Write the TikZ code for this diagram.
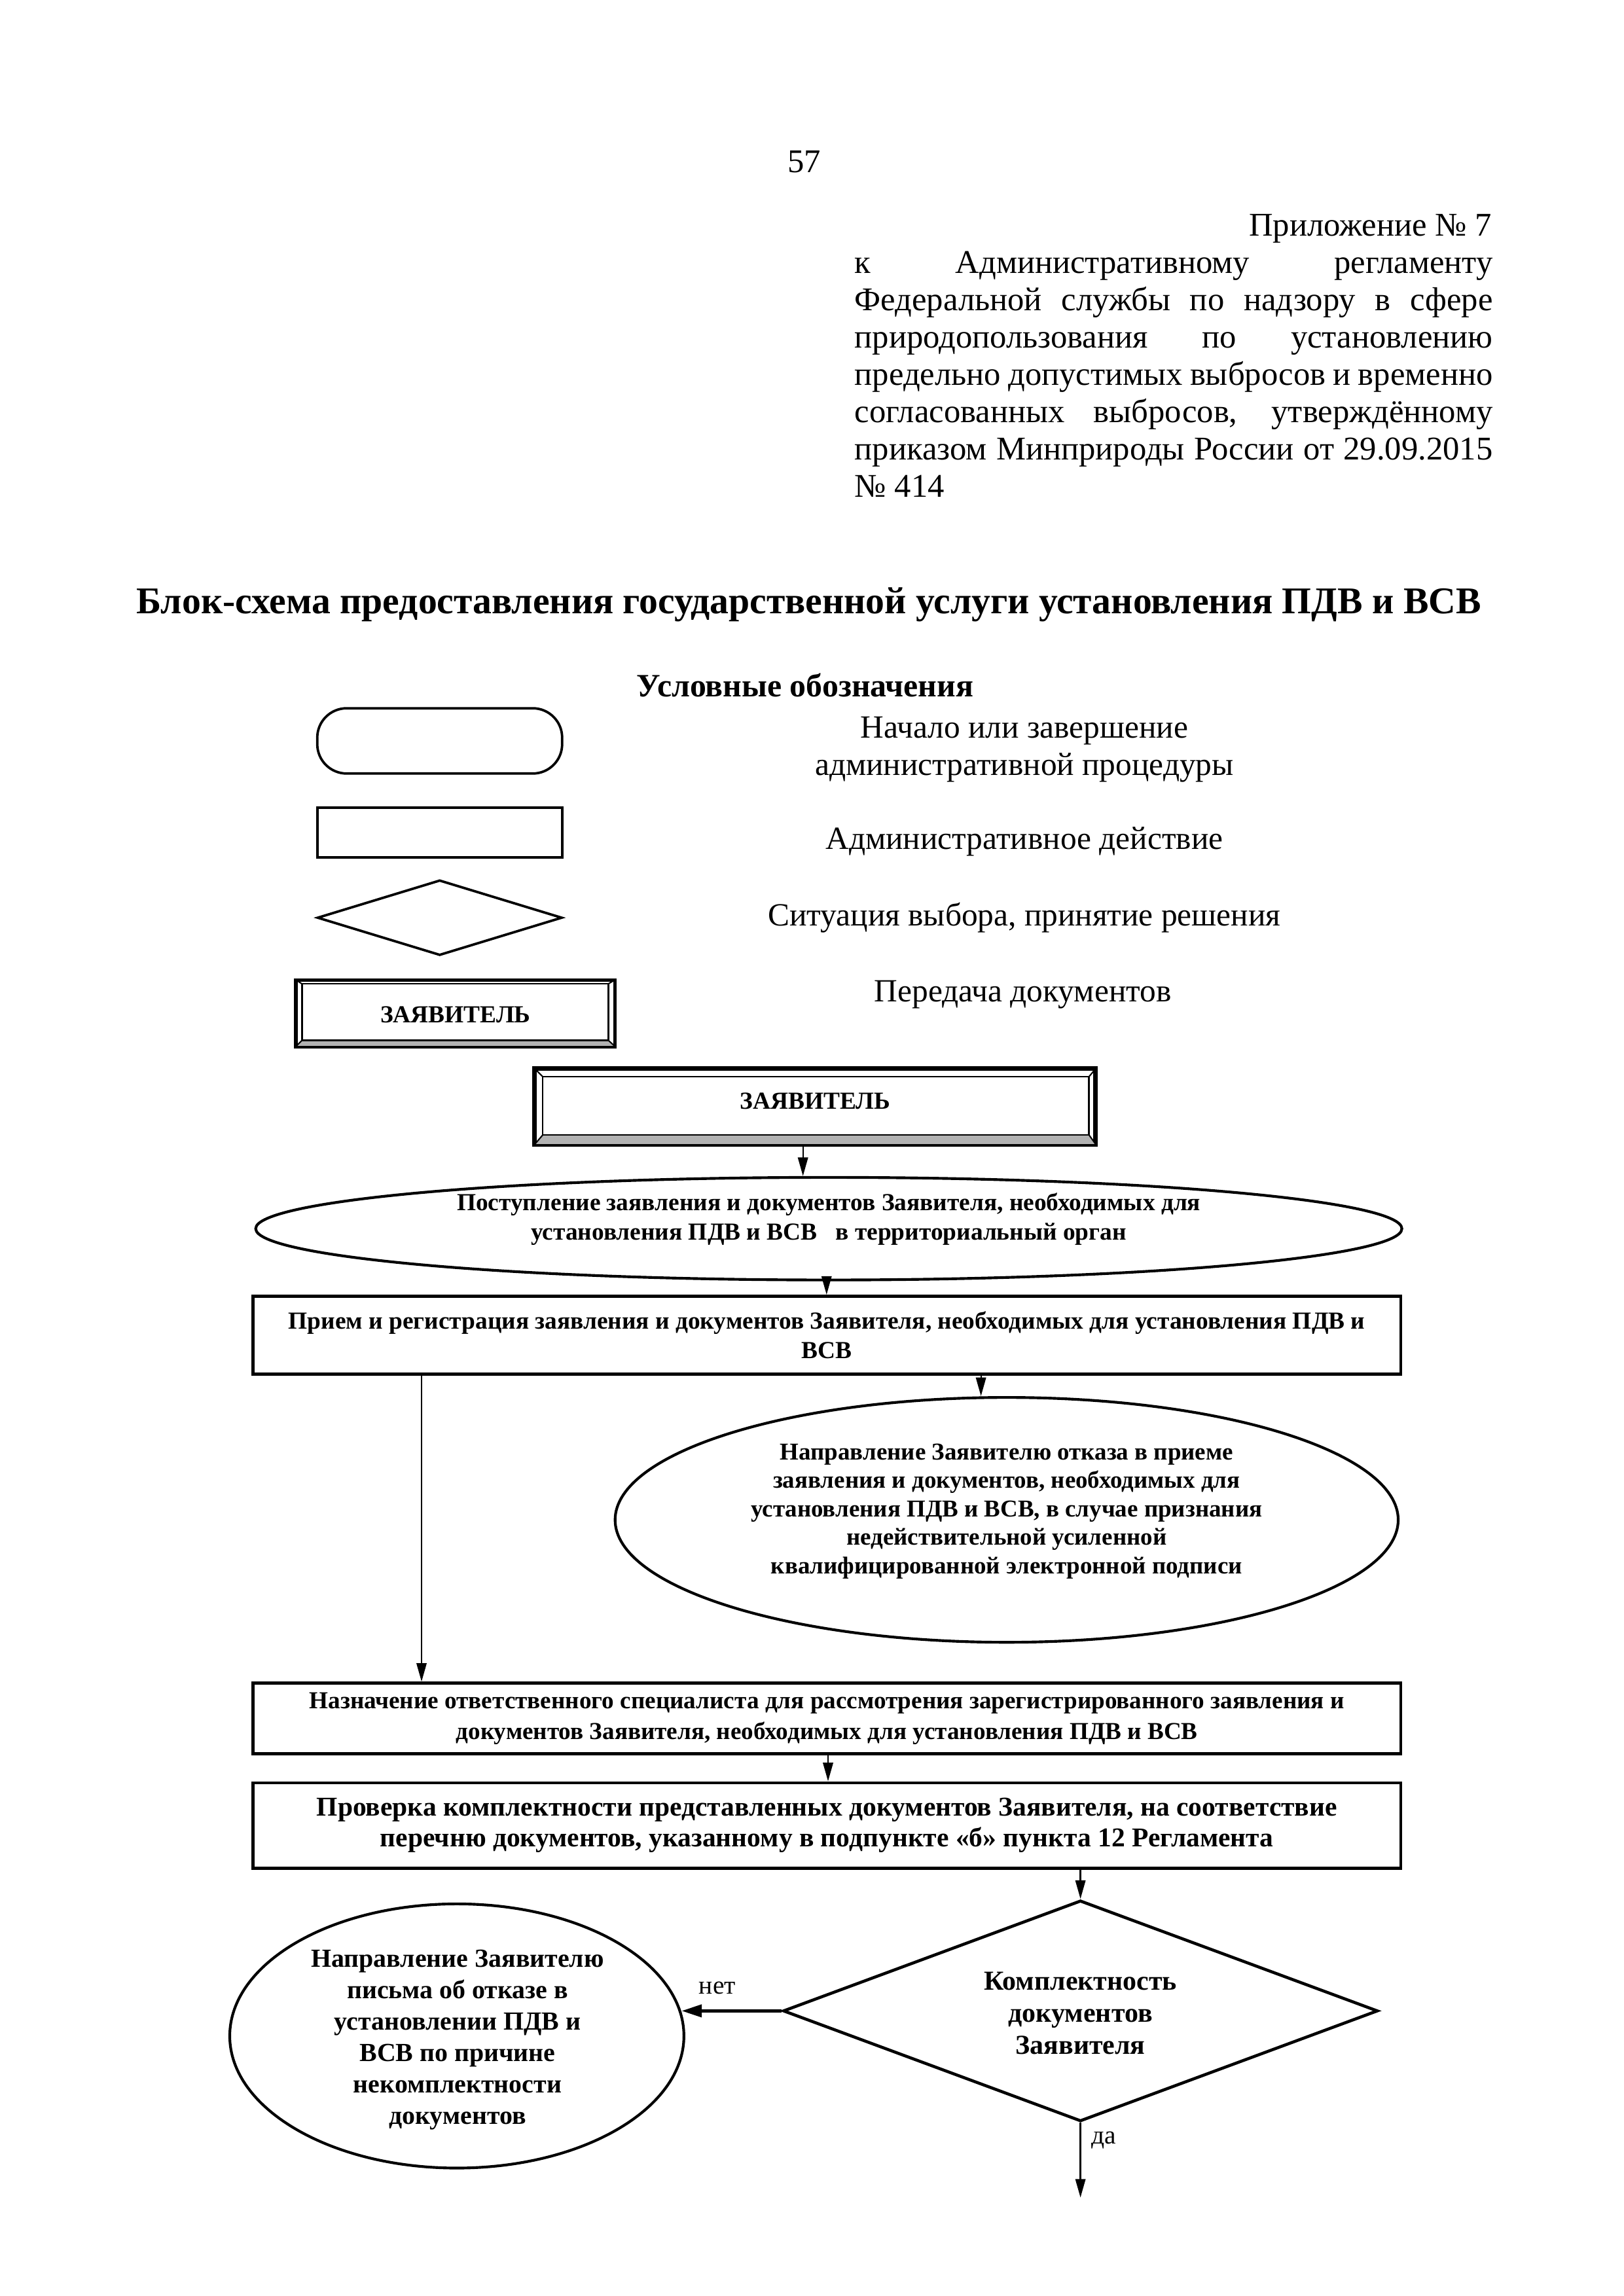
\documentclass[tikz,border=0pt]{standalone}
\usepackage{fontspec}
\setmainfont{Liberation Serif}
\usetikzlibrary{shapes.geometric,arrows.meta,calc}
\begin{document}
\begin{tikzpicture}[x=0.190909mm,y=-0.190909mm,
  body/.style={font=\fontsize{12.2}{13.7}\selectfont, inner sep=0pt},
  legt/.style={font=\fontsize{11.9}{13.7}\selectfont, inner sep=0pt},
  btxt/.style={font=\bfseries\fontsize{9}{10.8}\selectfont, align=center, inner sep=0pt},
  rbox/.style={draw, rectangle, line width=1.15pt, inner sep=0pt, align=center},
  ell/.style={draw, ellipse, line width=1pt, inner sep=0pt},
  dia/.style={draw, diamond, line width=1.1pt, inner sep=0pt},
  legshape/.style={draw, line width=0.9pt, inner sep=0pt},
  arr/.style={-{Triangle[length=2.4mm,width=1.3mm]}, line width=0.55pt},
  lbl/.style={font=\fontsize{9.5}{11}\selectfont, inner sep=0pt},
]
\useasboundingbox (0,0) rectangle (1100,1555.7);
\fill[white] (0,0) rectangle (1100,1555.7);

% ---------- header ----------
\node[body, anchor=mid] (pg) at (545,112.5) {57};
\node[body, anchor=mid east] (h1) at (1011,155.7) {Приложение № 7};
\node[body, anchor=mid west] (h2) at (578.7,181.0) {\makebox[82.53mm][s]{к Административному регламенту}};
\node[body, anchor=mid west] (h3) at (578.7,206.3) {\makebox[82.53mm][s]{Федеральной службы по надзору в сфере}};
\node[body, anchor=mid west] (h4) at (578.7,231.6) {\makebox[82.53mm][s]{природопользования по установлению}};
\node[body, anchor=mid west] (h5) at (578.7,256.9) {\makebox[82.53mm][s]{предельно допустимых выбросов и временно}};
\node[body, anchor=mid west] (h6) at (578.7,282.2) {\makebox[82.53mm][s]{согласованных выбросов, утверждённому}};
\node[body, anchor=mid west] (h7) at (578.7,307.5) {\makebox[82.53mm][s]{приказом Минприроды России от 29.09.2015}};
\node[body, anchor=mid west] (h8) at (578.7,332.8) {№ 414};

\node[font=\bfseries\fontsize{13.9}{16}\selectfont, inner sep=0pt, anchor=mid] (title) at (548,411.5)
  {Блок-схема предоставления государственной услуги установления ПДВ и ВСВ};

% ---------- legend ----------
\node[font=\bfseries\fontsize{12}{14}\selectfont, inner sep=0pt, anchor=mid] (lh) at (545.5,468) {Условные обозначения};

\node[legshape, rounded corners=3.8mm, minimum width=31.67mm, minimum height=8.44mm] (lterm) at (297.9,502) {};
\node[legshape, rectangle, minimum width=31.67mm, minimum height=6.41mm] (lrect) at (297.9,564) {};
\node[legshape, diamond, minimum width=31.67mm, minimum height=9.74mm] (ldia) at (297.9,621.8) {};
\node[legshape, rectangle, minimum width=41.12mm, minimum height=8.42mm] (lbev) at (308.6,686.5) {};
\fill[gray!60] (lbev.south west) -- (lbev.south east) -- ($(lbev.south east)+(-5,-4.5)$) -- ($(lbev.south west)+(4.5,-4.5)$) -- cycle;
\draw[line width=0.6pt] ($(lbev.north west)+(4.5,3)$) rectangle ($(lbev.south east)+(-5,-4.5)$);
\draw[line width=0.5pt] (lbev.north west) -- ($(lbev.north west)+(4.5,3)$)
  (lbev.north east) -- ($(lbev.north east)+(-5,3)$)
  (lbev.south west) -- ($(lbev.south west)+(4.5,-4.5)$)
  (lbev.south east) -- ($(lbev.south east)+(-5,-4.5)$);
\draw[line width=0.9pt] (lbev.north west) rectangle (lbev.south east);
\node[font=\bfseries\fontsize{9}{10}\selectfont, inner sep=0pt] (lbevt) at (308.6,687.5) {ЗАЯВИТЕЛЬ};

\node[legt, align=center, anchor=center] (lt1) at (694,507.7) {Начало или завершение\\административной процедуры};
\node[legt, anchor=mid] (lt2) at (694,571.3) {Административное действие};
\node[legt, anchor=mid] (lt3) at (694,623) {Ситуация выбора, принятие решения};
\node[legt, anchor=mid] (lt4) at (693,674.6) {Передача документов};

% ---------- main flow ----------
\node[draw, rectangle, line width=1.1pt, minimum width=72.37mm, minimum height=9.64mm, inner sep=0pt] (zay) at (552.25,749.75) {};
\fill[gray!60] (zay.south west) -- (zay.south east) -- ($(zay.south east)+(-5,-7)$) -- ($(zay.south west)+(6,-7)$) -- cycle;
\draw[line width=0.6pt] ($(zay.north west)+(6,6)$) rectangle ($(zay.south east)+(-5,-7)$);
\draw[line width=0.5pt] (zay.north west) -- ($(zay.north west)+(6,6)$)
  (zay.north east) -- ($(zay.north east)+(-5,6)$)
  (zay.south west) -- ($(zay.south west)+(6,-7)$)
  (zay.south east) -- ($(zay.south east)+(-5,-7)$);
\draw[line width=1.1pt] (zay.north west) rectangle (zay.south east);
\node[font=\bfseries\fontsize{9}{10}\selectfont, inner sep=0pt] (zayt) at (552.25,746) {ЗАЯВИТЕЛЬ};

\node[ell, minimum width=148.24mm, minimum height=13.27mm] (e1) at (561.5,832.5) {};
\node[btxt] (e1t) at (561.5,826) {Поступление заявления и документов Заявителя, необходимых для\\установления ПДВ и ВСВ \ \ в территориальный орган};

\node[rbox, btxt, minimum width=148.45mm, minimum height=10.04mm] (b1) at (560.2,904.6)
  {Прием и регистрация заявления и документов Заявителя, необходимых для установления ПДВ и\\ВСВ};

\node[ell, minimum width=101.28mm, minimum height=31.67mm] (e2) at (682,1029.8) {};
\node[btxt, font=\bfseries\fontsize{8.9}{10.47}\selectfont] (e2t) at (682,1024) {Направление Заявителю отказа в приеме\\заявления и документов, необходимых для\\установления ПДВ и ВСВ, в случае признания\\недействительной усиленной\\квалифицированной электронной подписи};

\node[rbox, btxt, font=\bfseries\fontsize{8.95}{11.3}\selectfont, minimum width=148.45mm, minimum height=9.11mm] (b2) at (560.2,1164.35)
  {Назначение ответственного специалиста для рассмотрения зарегистрированного заявления и\\документов Заявителя, необходимых для установления ПДВ и ВСВ};

\node[rbox, btxt, font=\bfseries\fontsize{10}{11.25}\selectfont, minimum width=148.45mm, minimum height=11.02mm] (b3) at (560.2,1236.85)
  {Проверка комплектности представленных документов Заявителя, на соответствие\\перечню документов, указанному в подпункте «б» пункта 12 Регламента};

\node[dia, minimum width=76.94mm, minimum height=28.58mm] (d) at (732,1362.5) {};
\node[btxt, font=\bfseries\fontsize{10.1}{11.74}\selectfont] (dt) at (732,1364) {Комплектность\\документов\\Заявителя};

\node[ell, minimum width=58.74mm, minimum height=34.17mm] (le) at (309.5,1379.5) {};
\node[btxt, font=\bfseries\fontsize{9.6}{11.58}\selectfont] (let) at (310,1382) {Направление Заявителю\\письма об отказе в\\установлении ПДВ и\\ВСВ по причине\\некомплектности\\документов};

% ---------- connectors ----------
\coordinate (xa) at (544,0);
\coordinate (xb) at (560,0);
\coordinate (xc) at (664.6,0);
\coordinate (xd) at (285.6,0);
\coordinate (xe) at (561,0);
\coordinate (dend) at (732,1489);

\draw[arr] (zay.south -| xa) -- (e1.north -| xa);
\draw[arr] (e1.south -| xb) -- (b1.north -| xb);
\draw[arr] (b1.south -| xc) -- (e2.north -| xc);
\draw[arr] (b1.south -| xd) -- (b2.north -| xd);
\draw[arr] (b2.south -| xe) -- (b3.north -| xe);
\draw[arr] (b3.south -| d.north) -- (d.north);
\draw[-{Triangle[length=2.6mm,width=1.6mm]}, line width=1.1pt] (d.west) -- (d.west -| le.6.4);
\draw[arr] (d.south) -- (dend);

\node[lbl] (net) at (486,1347) {нет};
\node[lbl] (da) at (748,1450) {да};
\end{tikzpicture}
\end{document}
